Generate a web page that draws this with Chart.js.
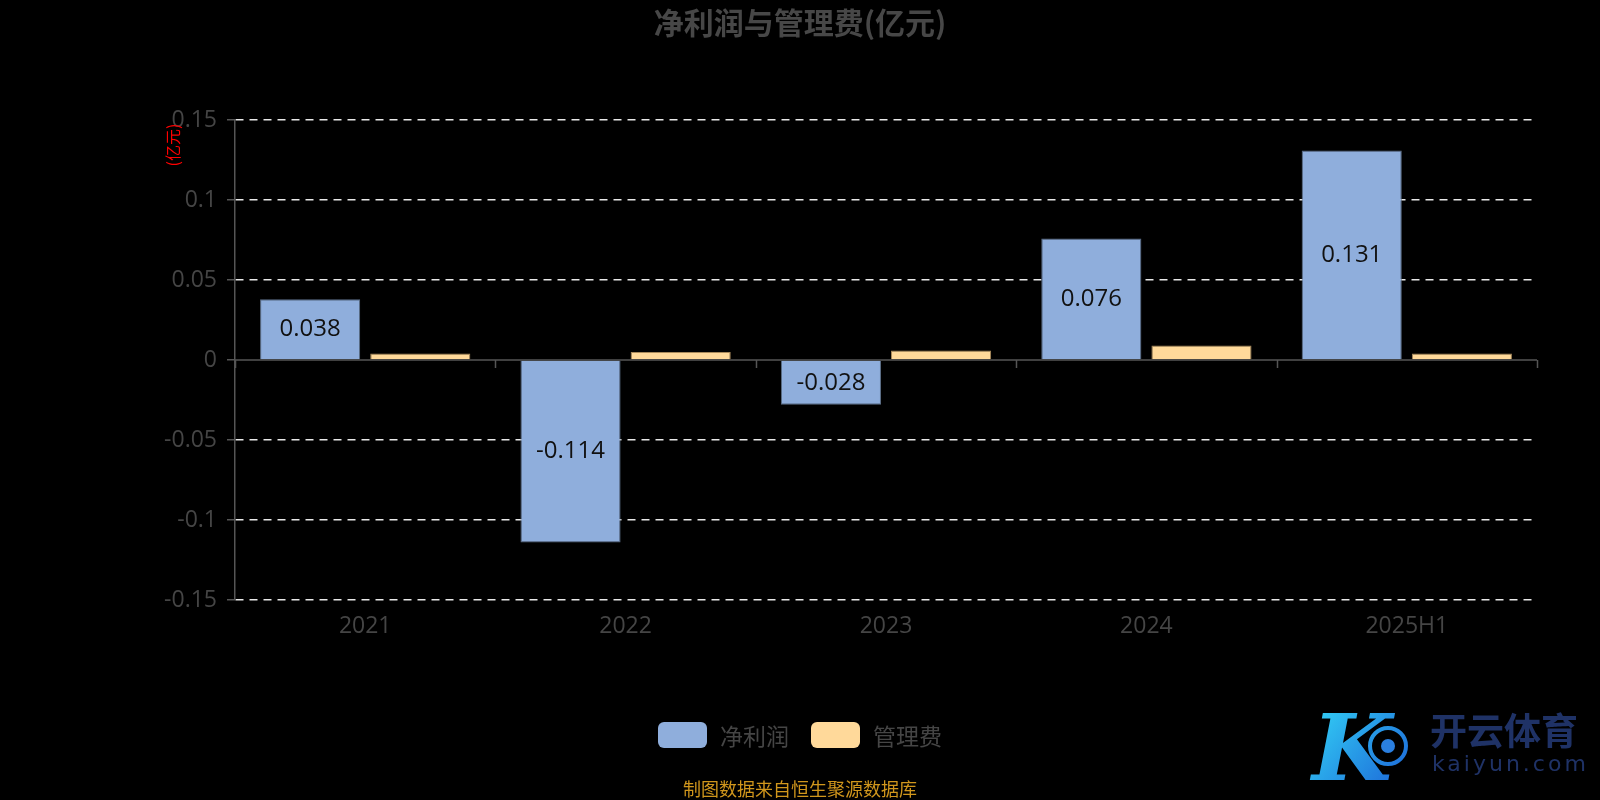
<!DOCTYPE html>
<html><head><meta charset="utf-8">
<script src="https://cdn.jsdelivr.net/npm/chart.js@4.4.1/dist/chart.umd.min.js"></script>
<style>html,body{margin:0;padding:0;background:#000;} #wrap{width:1600px;height:800px;position:relative;background:#000;}</style>
</head><body><div id="wrap"><canvas id="c" width="1600" height="800"></canvas></div>
<script>
const categories = ['2021', '2022', '2023', '2024', '2025H1'];
const netProfit = [0.038, -0.114, -0.028, 0.076, 0.131];
const adminExpense = [0.004, 0.005, 0.006, 0.009, 0.004];
const seriesNames = ['净利润', '管理费'];
const yTicks = [-0.15, -0.1, -0.05, 0, 0.05, 0.1, 0.15];
const chartTitle = '净利润与管理费(亿元)';
const yUnit = '(亿元)';
const sourceNote = '制图数据来自恒生聚源数据库';
const logoName = '开云体育';
const logoUrl = 'kaiyun.com';

const FONT = "'Open Sans', 'Noto Sans CJK SC', sans-serif";
const CJK = "'Noto Sans CJK SC', sans-serif";
const colors = ['#8FAEDC', '#FFD99A'];
const borders = ['#5d6f88', '#a8895a'];
const textGrey = '#454545';

const decor = {
  id: 'decor',
  beforeDatasetsDraw(chart) {
    const {ctx, chartArea, scales} = chart;
    const y0 = scales.y.getPixelForValue(0);
    ctx.save();
    ctx.strokeStyle = '#555';
    ctx.lineWidth = 1.5;
    ctx.beginPath();
    ctx.moveTo(chartArea.left, y0);
    ctx.lineTo(chartArea.right, y0);
    const n = categories.length;
    const w = (chartArea.right - chartArea.left) / n;
    for (let i = 0; i <= n; i++) {
      const x = Math.round(chartArea.left + i * w) + 0.5;
      ctx.moveTo(x, y0);
      ctx.lineTo(x, y0 + 8);
    }
    ctx.stroke();
    ctx.restore();
  },
  afterDatasetsDraw(chart) {
    const {ctx} = chart;
    const meta = chart.getDatasetMeta(0);
    ctx.save();
    ctx.fillStyle = '#111';
    ctx.font = '24px ' + FONT;
    ctx.textAlign = 'center';
    ctx.textBaseline = 'middle';
    meta.data.forEach((bar, i) => {
      const cy = (bar.y + bar.base) / 2;
      ctx.fillText(String(netProfit[i]), bar.x, cy);
    });
    ctx.restore();
  },
  afterDraw(chart) {
    const {ctx, chartArea, width, height} = chart;
    ctx.save();
    // title
    ctx.fillStyle = '#474747';
    ctx.font = 'bold 30px ' + CJK;
    ctx.textAlign = 'center';
    ctx.textBaseline = 'middle';
    ctx.fillText(chartTitle, width / 2, 23);
    // y unit
    ctx.save();
    ctx.translate(chartArea.left - 62, chartArea.top + 25);
    ctx.rotate(-Math.PI / 2);
    ctx.fillStyle = '#ff0000';
    ctx.font = '16px ' + CJK;
    ctx.fillText(yUnit, 0, 0);
    ctx.restore();
    // legend
    ctx.font = '23px ' + CJK;
    const boxW = 49, boxH = 26, gap = 13, itemGap = 22;
    const tw = seriesNames.map(s => ctx.measureText(s).width);
    const total = tw.reduce((a, b) => a + b, 0) + 2 * (boxW + gap) + itemGap;
    let x = width / 2 - total / 2;
    const ly = 735;
    seriesNames.forEach((s, i) => {
      ctx.fillStyle = colors[i];
      ctx.beginPath();
      ctx.roundRect(x, ly - boxH / 2, boxW, boxH, 6);
      ctx.fill();
      x += boxW + gap;
      ctx.fillStyle = textGrey;
      ctx.textAlign = 'left';
      ctx.fillText(s, x, ly + 1);
      x += tw[i] + itemGap;
    });
    // source note
    ctx.fillStyle = '#d0961c';
    ctx.font = '18px ' + CJK;
    ctx.textAlign = 'center';
    ctx.fillText(sourceNote, width / 2, 789);
    // watermark logo
    const g = ctx.createLinearGradient(1320, 700, 1420, 780);
    g.addColorStop(0, '#33d0f5');
    g.addColorStop(1, '#1a5fd6');
    ctx.fillStyle = g;
    ctx.font = 'italic bold 92px "DejaVu Serif", serif';
    ctx.textAlign = 'left';
    ctx.textBaseline = 'alphabetic';
    ctx.fillText('K', 1312, 780);
    ctx.strokeStyle = g;
    ctx.lineWidth = 4;
    ctx.beginPath();
    ctx.arc(1388, 746, 18, 0, Math.PI * 2);
    ctx.stroke();
    ctx.fillStyle = '#2a7fe0';
    ctx.beginPath();
    ctx.arc(1388, 746, 7, 0, Math.PI * 2);
    ctx.fill();
    ctx.fillStyle = '#1f3266';
    ctx.font = 'bold 37px ' + CJK;
    ctx.textBaseline = 'middle';
    ctx.fillText(logoName, 1430, 731);
    ctx.font = '22px "DejaVu Sans", sans-serif';
    ctx.letterSpacing = '3px';
    ctx.fillText(logoUrl, 1432, 765);
    ctx.restore();
  }
};

new Chart(document.getElementById('c'), {
  type: 'bar',
  data: {
    labels: categories,
    datasets: [
      {label: seriesNames[0], data: netProfit, backgroundColor: colors[0], borderColor: borders[0], borderWidth: 1, categoryPercentage: 0.846, barPercentage: 0.909},
      {label: seriesNames[1], data: adminExpense, backgroundColor: colors[1], borderColor: borders[1], borderWidth: 1, categoryPercentage: 0.846, barPercentage: 0.909}
    ]
  },
  options: {
    responsive: false,
    animation: false,
    devicePixelRatio: 1,
    layout: {padding: {top: 120, right: 63, left: 0, bottom: 0}},
    plugins: {legend: {display: false}, title: {display: false}, tooltip: {enabled: false}},
    scales: {
      x: {
        grid: {display: false, drawTicks: false},
        border: {display: false},
        ticks: {color: textGrey, font: {size: 23, family: FONT}, padding: 13},
        afterFit: s => { s.height = 200; }
      },
      y: {
        min: -0.15, max: 0.15,
        afterBuildTicks: s => { s.ticks = yTicks.map(v => ({value: v})); },
        ticks: {
          color: textGrey, font: {size: 23, family: FONT}, padding: 10,
          callback: v => String(Number(v.toFixed(2)))
        },
        grid: {
          color: c => (c.tick && Math.abs(c.tick.value) < 1e-9) ? 'rgba(0,0,0,0)' : '#e8e8e8',
          lineWidth: 1.5,
          tickColor: '#555',
          tickLength: 8,
          drawTicks: true
        },
        border: {display: true, color: '#555', width: 1.5, dash: [8, 6]},
        afterFit: s => { s.width = 235; }
      }
    }
  },
  plugins: [decor]
});
</script></body></html>
